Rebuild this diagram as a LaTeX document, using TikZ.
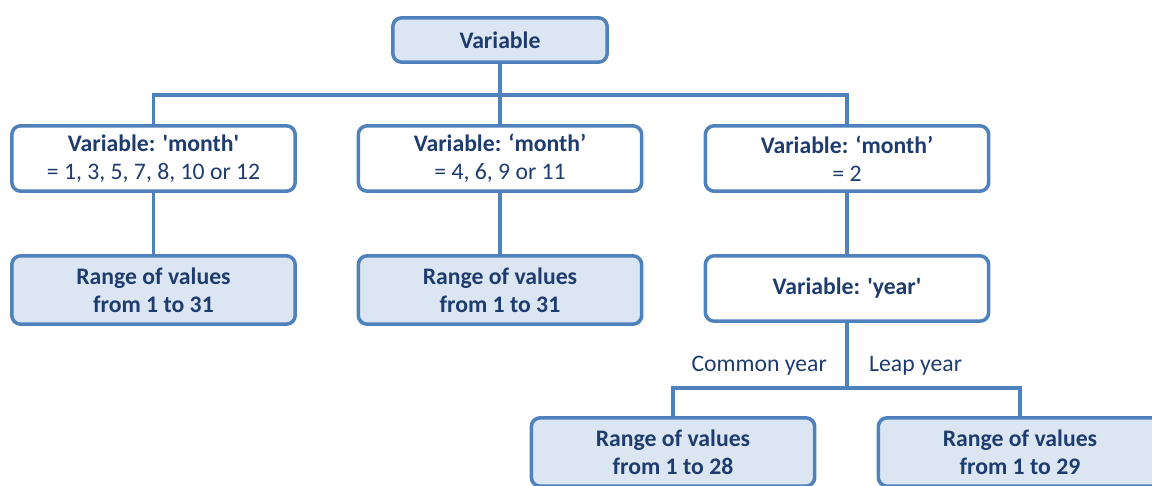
\documentclass[tikz,border=0pt]{standalone}
\usepackage{fontspec}
\setmainfont{Carlito}
\usetikzlibrary{positioning}
\definecolor{boxline}{RGB}{79,129,189}
\definecolor{boxfill}{RGB}{220,230,242}
\definecolor{boxtext}{RGB}{31,60,110}

\begin{document}
\begin{tikzpicture}[x=0.02cm,y=-0.02cm,
	every node/.style={font=\fontsize{13.5}{16}\selectfont,text=boxtext},
	plain/.style={draw=boxline,line width=0.07cm,rounded corners=0.18cm,fill=white,align=center,minimum width=5.67cm,minimum height=1.31cm},
	shaded/.style={plain,fill=boxfill,font=\fontsize{13.5}{16}\selectfont\bfseries,minimum height=1.37cm},
	link/.style={draw=boxline,line width=0.07cm}]
		\useasboundingbox (0,0) rectangle (1152,486);
		\clip (0,0) rectangle (1152,486);
		\node[shaded,minimum width=4.29cm,minimum height=0.89cm] (var) at (500,40) {Variable};
		\node[plain] (m1) at (153.5,158.5) {\textbf{Variable: \textquotesingle month\textquotesingle}\\= 1, 3, 5, 7, 8, 10 or 12};
		\node[plain] (m2) at (500,158.5) {\textbf{Variable: ‘month’}\\= 4, 6, 9 or 11};
		\node[plain] (m3) at (847,158.5) {\textbf{Variable: ‘month’}\\= 2};
		\foreach \n/\x in {r1/153.5,r2/500}
		\node[shaded] (\n) at (\x,290) {Range of values\\from 1 to 31};
		\node[plain] (year) at (847,288.5) {\textbf{Variable: \textquotesingle year\textquotesingle}};
		\node[shaded] (r28) at (673,452) {Range of values\\from 1 to 28};
		\node[shaded] (r29) at (1020,452) {Range of values\\from 1 to 29};
		\coordinate (top) at (500,95);
		\coordinate (split) at (847,388);
		\draw[link] (var) -- (top);
		\draw[link] (m1.north) |- (top) -| (m3.north);
		\draw[link] (top) -- (m2);
		\foreach \a/\b in {m1/r1,m2/r2,m3/year,year/split}
		\draw[link] (\a) -- (\b);
		\draw[link] (r28.north) |- (split) -| (r29.north);
		\node[left] (common) at (833,366) {Common year};
		\node[right] (leap) at (863,366) {Leap year};
		\end{tikzpicture}
\end{document}
